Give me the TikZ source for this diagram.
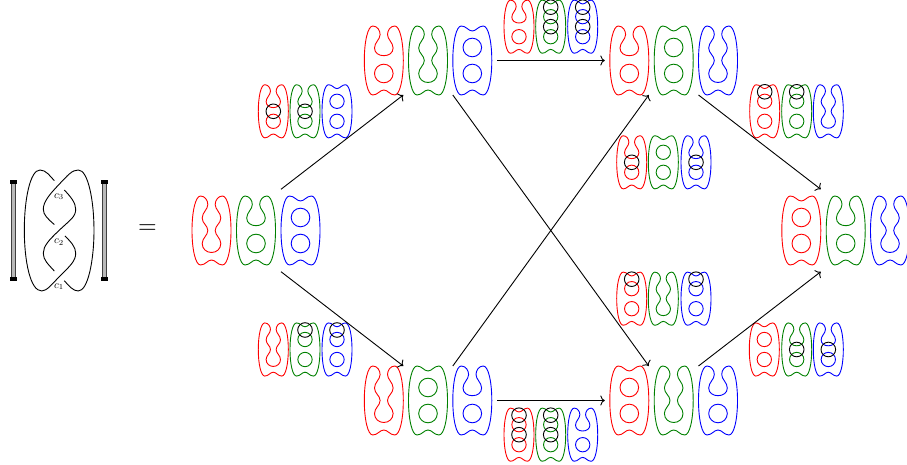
\documentclass[tikz,border=0pt]{standalone}
\usetikzlibrary{arrows.meta,positioning,calc}

\begin{document}
\begin{tikzpicture}[
    x=1pt, y=1pt,
    line width=0.9pt,
    statebox/.style={minimum width=39pt, minimum height=69pt, inner sep=0pt, outer sep=0pt},
    smallstate/.style={scale=0.77},
    crosscut/.style={draw=black},
    knot/.style={draw=black, line width=0.9pt},
    bracketbar/.style={draw=black!75, fill=gray!55, line width=0.7pt},
    bracketcap/.style={fill=black},
    arrow/.style={-{To[length=4.5pt, width=10pt]}, draw=black},
    resA/.pic={
        \draw[pic actions] (0,29.5) .. controls (4,29.5) and (6,34.5) .. (11,34.5) .. controls (16,34.5) and (19.5,19) .. (19.5,0) .. controls (19.5,-19) and (16,-34.5) .. (11,-34.5) .. controls (6,-34.5) and (4,-29.5) .. (0,-29.5) .. controls (-4,-29.5) and (-6,-34.5) .. (-11,-34.5) .. controls (-16,-34.5) and (-19.5,-19) .. (-19.5,0) .. controls (-19.5,19) and (-16,34.5) .. (-11,34.5) .. controls (-6,34.5) and (-4,29.5) .. (0,29.5) -- cycle;
        \draw[pic actions] (0,13) circle (9.3);
        \draw[pic actions] (0,-13) circle (9.3);
        \node[statebox] (-box) {};
    },
    resB/.pic={
        \draw[pic actions] (0,4.8) .. controls (5,4.8) and (9.3,7.5) .. (9.3,12.5) .. controls (9.3,18) and (3.7,21) .. (3.7,26) .. controls (3.7,30) and (6.5,34.5) .. (11,34.5) .. controls (16,34.5) and (19.5,19) .. (19.5,0) .. controls (19.5,-19) and (16,-34.5) .. (11,-34.5) .. controls (6,-34.5) and (4,-29.5) .. (0,-29.5) .. controls (-4,-29.5) and (-6,-34.5) .. (-11,-34.5) .. controls (-16,-34.5) and (-19.5,-19) .. (-19.5,0) .. controls (-19.5,19) and (-16,34.5) .. (-11,34.5) .. controls (-6.5,34.5) and (-3.7,30) .. (-3.7,26) .. controls (-3.7,21) and (-9.3,18) .. (-9.3,12.5) .. controls (-9.3,7.5) and (-5,4.8) .. (0,4.8) -- cycle;
        \draw[pic actions] (0,-13) circle (9.3);
        \node[statebox] (-box) {};
    },
    resC/.pic={
        \draw[pic actions] (0,-22) .. controls (5,-22) and (9.3,-18.5) .. (9.3,-13) .. controls (9.3,-7.5) and (3.7,-5) .. (3.7,0) .. controls (3.7,5) and (9.3,7) .. (9.3,12.5) .. controls (9.3,18) and (3.7,21) .. (3.7,26) .. controls (3.7,30) and (6.5,34.5) .. (11,34.5) .. controls (16,34.5) and (19.5,19) .. (19.5,0) .. controls (19.5,-19) and (16,-34.5) .. (11,-34.5) .. controls (6,-34.5) and (4,-29.5) .. (0,-29.5) .. controls (-4,-29.5) and (-6,-34.5) .. (-11,-34.5) .. controls (-16,-34.5) and (-19.5,-19) .. (-19.5,0) .. controls (-19.5,19) and (-16,34.5) .. (-11,34.5) .. controls (-6.5,34.5) and (-3.7,30) .. (-3.7,26) .. controls (-3.7,21) and (-9.3,18) .. (-9.3,12.5) .. controls (-9.3,7) and (-3.7,5) .. (-3.7,0) .. controls (-3.7,-5) and (-9.3,-7.5) .. (-9.3,-13) .. controls (-9.3,-18.5) and (-5,-22) .. (0,-22) -- cycle;
        \node[statebox] (-box) {};
    }
]
    \useasboundingbox (0,0) rectangle (907,465);

    % Left bracket
    \draw[bracketbar] (11.4,186) rectangle (15.8,283);
    \fill[bracketcap] (10.3,281) rectangle (17,284.7);
    \fill[bracketcap] (10.3,184.3) rectangle (17,188);

    % Right bracket
    \draw[bracketbar] (102.4,186) rectangle (106.8,283);
    \fill[bracketcap] (101.3,281) rectangle (108,284.7);
    \fill[bracketcap] (101.3,184.3) rectangle (108,188);

    % Braid strands
    \draw[knot] (65,229) .. controls (71,223) and (75.7,218) .. (75.7,211.7) .. controls (75.7,204) and (70,199) .. (60,189) .. controls (52,181) and (47,174) .. (41.7,174) .. controls (30,174) and (24.3,205) .. (24.3,235) .. controls (24.3,265) and (30,295) .. (40,295) .. controls (46,295) and (50,289) .. (54.3,284.3);
    \draw[knot] (64.3,184.3) .. controls (69,179) and (73,174) .. (78.3,174) .. controls (88,174) and (94,205) .. (94,234.5) .. controls (94,265) and (88,295) .. (78.3,295) .. controls (72,295) and (68,290) .. (58.5,280) .. controls (49,270) and (43.3,263) .. (43.3,255.7) .. controls (43.3,250) and (48,246) .. (54.3,240.5);
    \draw[knot] (64.3,275) .. controls (71,268) and (75.7,262) .. (75.7,255.7) .. controls (75.7,248) and (70,245) .. (59,234.5) .. controls (49,225) and (43.3,219) .. (43.3,211.7) .. controls (43.3,205) and (48,201) .. (54.3,194);

    % Crossing labels
    \node[scale=1.1] (labelc3) at (59,268.3) {$c_3$};
    \node[scale=1.1] (labelc2) at (59,222.7) {$c_2$};
    \node[scale=1.1] (labelc1) at (59,178.3) {$c_1$};
    \node[scale=2.4] (equals) at (147.5,236) {$=$};

    % Large states
    \pic[draw=red] (s000r) at (211.5,234.5) {resC};
    \pic[draw=green!50!black] (s000g) at (256,234.5) {resB};
    \pic[draw=blue] (s000b) at (300.5,234.5) {resA};

    \pic[draw=red] (s100r) at (383.8,404.5) {resB};
    \pic[draw=green!50!black] (s100g) at (428,404.5) {resC};
    \pic[draw=blue] (s100b) at (472.3,404.5) {resA};

    \pic[draw=red] (s001r) at (383.8,64.5) {resC};
    \pic[draw=green!50!black] (s001g) at (428,64.5) {resA};
    \pic[draw=blue] (s001b) at (472.3,64.5) {resB};

    \pic[draw=red] (s110r) at (629.3,404.5) {resB};
    \pic[draw=green!50!black] (s110g) at (673.7,404.5) {resA};
    \pic[draw=blue] (s110b) at (718,404.5) {resC};

    \pic[draw=red] (s011r) at (629.3,64.5) {resA};
    \pic[draw=green!50!black] (s011g) at (673.7,64.5) {resC};
    \pic[draw=blue] (s011b) at (718,64.5) {resB};

    \pic[draw=red] (s111r) at (801.3,234.5) {resA};
    \pic[draw=green!50!black] (s111g) at (845.7,234.5) {resB};
    \pic[draw=blue] (s111b) at (890,234.5) {resC};

    % Small states, upper half
    \pic[draw=red, smallstate] at (273.3,353.7) {resB};
    \pic[draw=green!50!black, smallstate] at (305,353.7) {resB};
    \pic[draw=blue, smallstate] at (337,353.7) {resA};
    \draw[crosscut] (273.3,353.7) circle (7.3);
    \draw[crosscut] (305,353.7) circle (7.3);

    \pic[draw=red, smallstate] at (519,438.3) {resB};
    \pic[draw=green!50!black, smallstate] at (550.7,438.3) {resA};
    \pic[draw=blue, smallstate] at (582.7,438.3) {resA};
    \draw[crosscut] (550.7,457.8) circle (7.3);
    \draw[crosscut] (550.7,438.3) circle (7.3);
    \draw[crosscut] (582.7,457.8) circle (7.3);
    \draw[crosscut] (582.7,438.3) circle (7.3);

    \pic[draw=red, smallstate] at (631.7,302.7) {resB};
    \pic[draw=green!50!black, smallstate] at (663.3,302.7) {resA};
    \pic[draw=blue, smallstate] at (696,302.7) {resB};
    \draw[crosscut] (631.7,302.7) circle (7.3);
    \draw[crosscut] (696,302.7) circle (7.3);

    \pic[draw=red, smallstate] at (764.7,353.7) {resA};
    \pic[draw=green!50!black, smallstate] at (796.7,353.7) {resA};
    \pic[draw=blue, smallstate] at (828.3,353.7) {resC};
    \draw[crosscut] (764.7,373.2) circle (7.3);
    \draw[crosscut] (796.7,373.2) circle (7.3);

    % Small states, lower half
    \pic[draw=red, smallstate] at (273.3,115.5) {resC};
    \pic[draw=green!50!black, smallstate] at (305,115.5) {resA};
    \pic[draw=blue, smallstate] at (337,115.5) {resA};
    \draw[crosscut] (305,135) circle (7.3);
    \draw[crosscut] (337,135) circle (7.3);

    \pic[draw=red, smallstate] at (519,30.3) {resA};
    \pic[draw=green!50!black, smallstate] at (550.7,30.3) {resA};
    \pic[draw=blue, smallstate] at (582.7,30.3) {resB};
    \draw[crosscut] (519,49.8) circle (7.3);
    \draw[crosscut] (519,30.3) circle (7.3);
    \draw[crosscut] (550.7,49.8) circle (7.3);
    \draw[crosscut] (550.7,30.3) circle (7.3);

    \pic[draw=red, smallstate] at (631.7,166.3) {resA};
    \pic[draw=green!50!black, smallstate] at (663.3,166.3) {resC};
    \pic[draw=blue, smallstate] at (696,166.3) {resA};
    \draw[crosscut] (631.7,185.8) circle (7.3);
    \draw[crosscut] (696,185.8) circle (7.3);

    \pic[draw=red, smallstate] at (764.3,115.5) {resA};
    \pic[draw=green!50!black, smallstate] at (796.7,115.5) {resB};
    \pic[draw=blue, smallstate] at (828.3,115.5) {resB};
    \draw[crosscut] (796.7,115.5) circle (7.3);
    \draw[crosscut] (828.3,115.5) circle (7.3);

    % Arrows between states
    \draw[arrow] ([yshift=6.7pt]s000b-box.north west) -- (s100r-box.south east);
    \draw[arrow] ([yshift=-6.7pt]s000b-box.south west) -- (s001r-box.north east);
    \draw[arrow] ([xshift=5pt]s100b-box.east) -- ([xshift=-5pt]s110r-box.west);
    \draw[arrow] (s100b-box.south west) -- (s011r-box.north east);
    \draw[arrow] (s001b-box.north west) -- (s110r-box.south east);
    \draw[arrow] ([xshift=5pt]s001b-box.east) -- ([xshift=-5pt]s011r-box.west);
    \draw[arrow] (s110b-box.south west) -- ([yshift=6.7pt]s111r-box.north east);
    \draw[arrow] (s011b-box.north west) -- ([yshift=-6.7pt]s111r-box.south east);

\end{tikzpicture}
\end{document}
